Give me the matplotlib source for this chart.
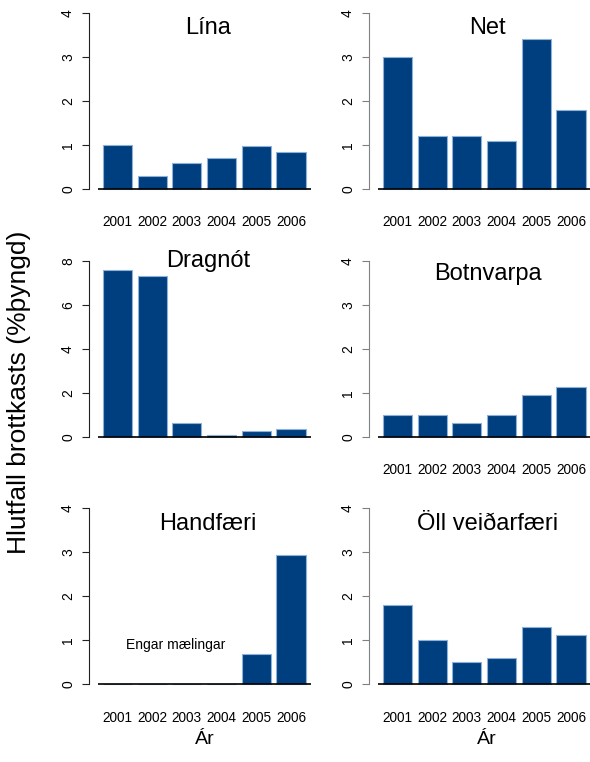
import matplotlib
matplotlib.use("Agg")
import matplotlib.pyplot as plt

plt.rcParams['font.family'] = ['Liberation Sans', 'DejaVu Sans']

years = ['2001', '2002', '2003', '2004', '2005', '2006']
titles = ['Lína', 'Net', 'Dragnót', 'Botnvarpa', 'Handfæri', 'Öll veiðarfæri']
lina = [1.0, 0.3, 0.6, 0.7, 0.98, 0.84]
net = [3.0, 1.2, 1.2, 1.1, 3.4, 1.8]
dragnot = [7.6, 7.3, 0.62, 0.06, 0.25, 0.36]
botnvarpa = [0.5, 0.5, 0.31, 0.5, 0.94, 1.13]
handfaeri = [0, 0, 0, 0, 0.68, 2.94]
oll = [1.8, 1.0, 0.5, 0.6, 1.3, 1.11]
series = [lina, net, dragnot, botnvarpa, handfaeri, oll]
ymax = [4, 4, 8, 4, 4, 4]
title_y = [3.65, 3.65, 8.0, 3.7, 3.65, 3.65]

bar_color = '#003f7f'
edge_color = '#8fb0d8'

fig = plt.figure(figsize=(5.9, 7.62), dpi=100)
W, H = 590, 762
x0 = [89, 369]
y_zero = [189, 436.7, 684.3]

for i, (vals, title) in enumerate(zip(series, titles)):
    row, col = divmod(i, 2)
    top = ymax[i]
    pad = top * 0.04
    px_per = 176.0 / top
    bottom_px = y_zero[row] + pad * px_per
    ax = fig.add_axes([x0[col] / W, 1 - bottom_px / H, 222.8 / W, 190.0 / H])
    idx = list(range(len(years)))
    ax.bar(idx, vals, width=0.84, color=bar_color, edgecolor=edge_color, linewidth=0.8)
    ax.hlines(0, -0.57, 5.57, color='black', linewidth=1.2)
    ax.set_xlim(-0.82, 5.6)
    ax.set_ylim(-pad, top + pad)
    step = 1 if top == 4 else 2
    ax.set_yticks(range(0, top + 1, step))
    ax.set_xticks(idx)
    if title == 'Dragnót':
        ax.set_xticklabels([''] * len(years))
    else:
        ax.set_xticklabels(years)
    for s in ['top', 'right', 'bottom']:
        ax.spines[s].set_visible(False)
    spine_color = '#222222' if col == 0 else '#808080'
    ax.spines['left'].set_bounds(0, top)
    ax.spines['left'].set_color(spine_color)
    ax.tick_params(axis='y', length=5, pad=5, labelsize=10, color=spine_color)
    for lab in ax.get_yticklabels():
        lab.set_rotation(90)
        lab.set_va('center')
    ax.tick_params(axis='x', length=0, pad=14, labelsize=9.8)
    ax.text(2.6, title_y[i], title, ha='center', va='center', fontsize=17)
    if title == 'Handfæri':
        ax.text(1.68, 0.9, 'Engar mælingar', ha='center', va='center', fontsize=10)

fig.text(205 / W, 1 - 740 / H, 'Ár', ha='center', va='center', fontsize=14)
fig.text(487 / W, 1 - 740 / H, 'Ár', ha='center', va='center', fontsize=14)
fig.text(19 / W, 1 - 392 / H, 'Hlutfall brottkasts (%þyngd)', rotation=90,
         ha='center', va='center', fontsize=19)

fig.savefig('out.png', dpi=100)
